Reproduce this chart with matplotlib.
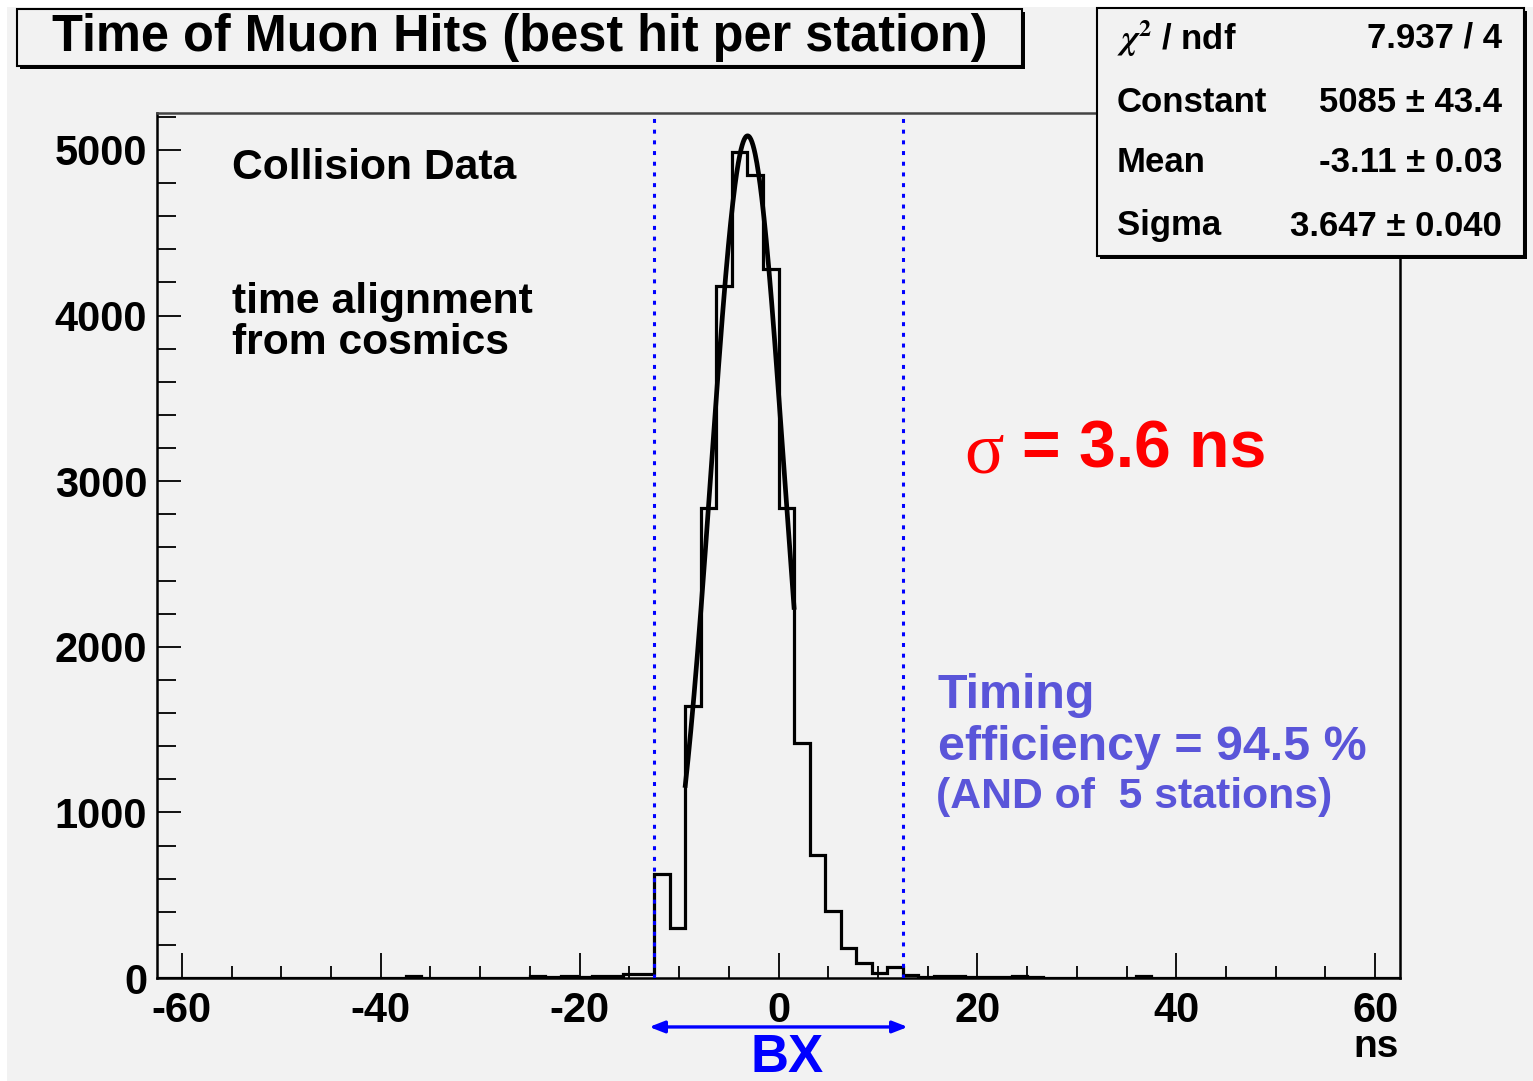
import numpy as np
import matplotlib
matplotlib.use("Agg")
import matplotlib.pyplot as plt
from matplotlib.patches import Rectangle

# ---------------- data ----------------
x_range = (-62.5, 62.5)
n_bins = 80
counts = [
    0, 0, 0, 0, 0, 0, 0, 0, 0, 0,          # -62.5 .. -46.9
    0, 0, 0, 0, 0, 0, 12, 3, 3, 3,          # -46.9 .. -31.3
    3, 3, 3, 3, 10, 4, 10, 5, 12, 15,       # -31.3 .. -15.6
    22, 22, 628, 300, 1645, 2835, 4180, 4985, 4850, 4280,   # -15.6 .. 0
    2840, 1420, 743, 405, 181, 90, 30, 66, 20, 8,           # 0 .. 15.6
    10, 10, 8, 8, 4, 10, 8, 3, 3, 3,        # 15.6 .. 31.3
    3, 3, 3, 10, 2, 2, 2, 2, 2, 2,          # 31.3 .. 46.9
    2, 2, 2, 0, 0, 0, 0, 0, 0, 0,           # 46.9 .. 62.5
]
fit_constant = 5085.0
fit_mean = -3.11
fit_sigma = 3.647
fit_range = (-9.375, 1.5625)
bx_window = (-12.5, 12.5)
x_ticks = [-60, -40, -20, 0, 20, 40, 60]
y_ticks = [0, 1000, 2000, 3000, 4000, 5000]
stats_labels = [r"$\chi^{2}$ / ndf", "Constant", "Mean", "Sigma"]
stats_values = ["7.937 / 4", "5085 \u00b1 43.4", "-3.11 \u00b1 0.03", "3.647 \u00b1 0.040"]

# ---------------- style ----------------
plt.rcParams["font.family"] = ["Liberation Sans", "DejaVu Sans"]
plt.rcParams["font.weight"] = "bold"
plt.rcParams["axes.unicode_minus"] = False
plt.rcParams["mathtext.fontset"] = "stix"

W, H = 1533, 1081
BG = "#f2f2f2"
BLUE_TXT = "#5a55d9"

fig = plt.figure(figsize=(W / 100, H / 100), dpi=100, facecolor=BG)

def fx(px):
    return px / W

def fy(py):
    return 1 - py / H

# white strips at top/left edge of scan
fig.add_artist(Rectangle((0, fy(7)), 1, 7 / H, transform=fig.transFigure,
                         facecolor="white", edgecolor="none", zorder=0))
fig.add_artist(Rectangle((0, 0), 7 / W, 1, transform=fig.transFigure,
                         facecolor="white", edgecolor="none", zorder=0))

ax = fig.add_axes([fx(157), fy(978), fx(1400 - 157), (978 - 113) / H], facecolor=BG)
edges = np.linspace(x_range[0], x_range[1], n_bins + 1)
ax.stairs(counts, edges, color="black", linewidth=2.3, baseline=0, zorder=3)

xf = np.linspace(fit_range[0], fit_range[1], 200)
yf = fit_constant * np.exp(-0.5 * ((xf - fit_mean) / fit_sigma) ** 2)
ax.plot(xf, yf, color="black", linewidth=3.4, zorder=4)

for xv in bx_window:
    ax.axvline(xv, color="#0000ff", linewidth=2.2, linestyle=(0, (1.3, 2.2)), zorder=5)

ax.set_xlim(*x_range)
ax.set_ylim(0, 5223)
ax.set_xticks(x_ticks)
ax.set_xticks(np.arange(-60, 61, 5), minor=True)
ax.set_yticks(y_ticks)
ax.set_yticks(np.arange(0, 5201, 200), minor=True)
ax.set_xticklabels([str(v) for v in x_ticks])
ax.set_yticklabels([str(v) for v in y_ticks])
ax.tick_params(axis="x", which="major", direction="in", length=18, width=1.3,
               labelsize=30, pad=9, top=False)
ax.tick_params(axis="x", which="minor", direction="in", length=9, width=1.3, top=False)
ax.tick_params(axis="y", which="major", direction="in", length=17, width=1.3,
               labelsize=30, pad=7, right=False)
ax.tick_params(axis="y", which="minor", direction="in", length=14, width=1.3, right=False)
for lab in ax.get_xticklabels() + ax.get_yticklabels():
    lab.set_fontweight("bold")
for s in ax.spines.values():
    s.set_linewidth(1.8)
    s.set_color("black")
ax.spines["top"].set_color("#444444")

# BX arrow
ax.annotate("", xy=(-13.0, -0.0566), xytext=(13.0, -0.0566),
            xycoords=("data", "axes fraction"), textcoords=("data", "axes fraction"),
            arrowprops=dict(arrowstyle="<|-|>,head_length=0.9,head_width=0.35",
                            color="#0000ff", lw=2.4, shrinkA=0, shrinkB=0),
            annotation_clip=False)
fig.text(fx(787), fy(1058), "BX", color="#0000ff", fontsize=38, fontweight="bold",
         ha="center", va="center")
fig.text(fx(1376), fy(1047), "ns", color="black", fontsize=28, fontweight="bold",
         ha="center", va="center")

# annotations inside plot
fig.text(fx(232), fy(168), "Collision Data", fontsize=30.7, fontweight="bold",
         ha="left", va="center")
fig.text(fx(232), fy(302), "time alignment", fontsize=30.7, fontweight="bold",
         ha="left", va="center")
fig.text(fx(232), fy(343), "from cosmics", fontsize=30.7, fontweight="bold",
         ha="left", va="center")
fig.text(fx(964), fy(455), "\u03c3", fontsize=53, color="#ff0000",
         family=["Liberation Serif", "DejaVu Serif"], fontweight="normal",
         ha="left", va="center")
fig.text(fx(1022), fy(450), "= 3.6 ns", fontsize=47.5, color="#ff0000",
         fontweight="bold", ha="left", va="center")
fig.text(fx(938), fy(695), "Timing", fontsize=34.8, color=BLUE_TXT, fontweight="bold",
         ha="left", va="center")
fig.text(fx(938), fy(748), "efficiency = 94.5 %", fontsize=34.8, color=BLUE_TXT,
         fontweight="bold", ha="left", va="center")
fig.text(fx(936), fy(797), "(AND of  5 stations)", fontsize=30.8, color=BLUE_TXT,
         fontweight="bold", ha="left", va="center")

# title box with shadow
def shadow_box(x0, y0, x1, y1, off=4):
    fig.add_artist(Rectangle((fx(x0 + off), fy(y1 + off)), fx(x1 - x0), (y1 - y0) / H,
                             transform=fig.transFigure, facecolor="black",
                             edgecolor="black", lw=0, zorder=5))
    fig.add_artist(Rectangle((fx(x0), fy(y1)), fx(x1 - x0), (y1 - y0) / H,
                             transform=fig.transFigure, facecolor=BG,
                             edgecolor="black", lw=1.5, zorder=6))

shadow_box(17, 9, 1022, 66, off=3)
fig.text(fx(520), fy(37), "Time of Muon Hits (best hit per station)", fontsize=36.4,
         fontweight="bold", ha="center", va="center", zorder=7)

# stats box
shadow_box(1097, 8, 1524, 256, off=3)
row_y = [38, 102, 163, 226]
for ry, lab, val in zip(row_y, stats_labels, stats_values):
    fig.text(fx(1117), fy(ry), lab, fontsize=25, fontweight="bold", ha="left",
             va="center", zorder=7)
    fig.text(fx(1502), fy(ry), val, fontsize=25, fontweight="bold", ha="right",
             va="center", zorder=7)

fig.savefig("out.png", dpi=100, facecolor=BG)
